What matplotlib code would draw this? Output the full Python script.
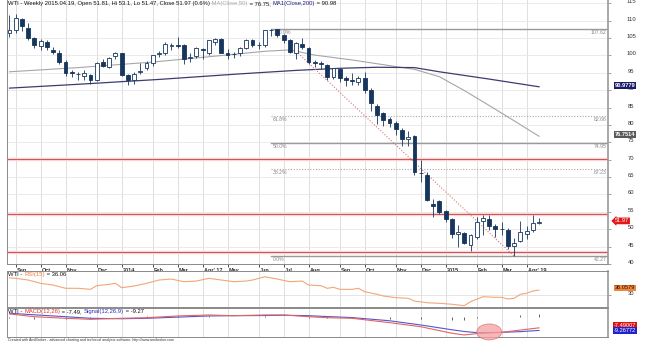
import matplotlib
matplotlib.use("Agg")
import matplotlib.pyplot as plt
import matplotlib.transforms as mtransforms
from matplotlib.patches import Ellipse

plt.rcParams['font.family'] = ['Liberation Sans', 'DejaVu Sans']

# weekly WTI bars, index 0 = week of 2 Sep 2013, last = week of 13 Apr 2015
bar_idx = list(range(-1, 85))
opens = [106.6, 107.4, 110.6, 107.9, 104.9, 102.8, 103.8, 101.6, 100.8, 98.2,
         95.1, 94.6, 94.1, 94.4, 93.0, 98.0, 96.8, 99.7, 100.6, 94.4,
         93.0, 95.3, 96.3, 97.8, 100.4, 100.7, 102.8, 103.0, 102.9, 99.3,
         99.9, 101.8, 100.6, 104.0, 104.6, 100.6, 100.3, 100.6, 102.1, 104.3,
         103.1, 103.0, 107.2, 107.5, 105.9, 104.3, 100.6, 103.3, 102.1, 98.0,
         97.8, 97.3, 93.9, 96.0, 93.6, 92.8, 92.5, 93.6, 90.1, 85.5,
         83.4, 81.7, 80.7, 78.6, 75.9, 76.7, 66.3, 65.7, 57.2, 58.0,
         55.3, 52.9, 48.7, 48.9, 45.4, 47.9, 52.4, 52.9, 51.0, 50.0,
         49.8, 45.1, 46.5, 48.7, 49.7, 51.81]
highs = [111.6, 112.0, 110.9, 109.3, 105.2, 104.6, 104.5, 102.5, 101.5, 98.6,
         95.8, 95.3, 95.7, 94.8, 98.1, 98.9, 99.5, 100.9, 100.8, 94.8,
         95.2, 97.8, 98.3, 100.2, 101.2, 103.9, 103.5, 105.2, 103.3, 100.7,
         102.3, 102.2, 104.4, 104.9, 104.9, 101.8, 101.1, 102.4, 104.6, 104.7,
         104.0, 107.4, 107.62, 107.6, 106.2, 104.6, 104.0, 105.0, 102.5, 98.6,
         98.5, 97.6, 96.5, 96.2, 94.0, 95.0, 94.2, 95.3, 90.6, 85.9,
         83.8, 82.2, 81.0, 79.0, 78.2, 77.0, 69.8, 66.6, 58.6, 58.5,
         55.6, 53.1, 51.3, 49.3, 48.6, 53.4, 54.2, 54.0, 51.4, 52.0,
         50.4, 47.4, 52.5, 50.8, 54.0, 53.1]
lows = [105.4, 106.6, 106.9, 104.4, 102.2, 101.5, 101.5, 100.4, 97.5, 94.2,
        93.7, 92.8, 92.9, 91.8, 92.6, 96.6, 96.3, 98.9, 94.0, 91.4,
        91.8, 94.8, 95.9, 96.9, 99.6, 100.2, 101.5, 102.2, 97.4, 98.1,
        99.3, 99.0, 100.2, 102.9, 100.6, 98.9, 99.2, 99.8, 101.8, 102.3,
        101.8, 102.5, 105.7, 105.3, 103.6, 100.6, 99.0, 101.9, 97.4, 96.6,
        96.2, 92.9, 93.3, 92.5, 91.3, 91.5, 91.6, 89.2, 84.0, 80.3,
        79.8, 79.4, 77.2, 74.0, 74.0, 65.7, 63.7, 58.0, 53.6, 54.5,
        52.0, 47.5, 45.0, 45.7, 43.8, 47.2, 48.4, 49.9, 47.8, 48.2,
        44.4, 42.27, 46.2, 47.1, 49.2, 51.47]
closes = [107.4, 110.9, 108.6, 104.9, 103.0, 104.2, 102.4, 101.1, 98.2, 94.9,
          95.0, 94.7, 94.9, 93.0, 97.8, 97.0, 99.4, 100.6, 94.4, 93.0,
          94.6, 95.6, 97.8, 100.1, 100.6, 103.4, 103.0, 102.8, 99.0, 99.5,
          102.0, 101.6, 104.3, 104.6, 100.8, 100.1, 100.5, 102.1, 104.4, 103.0,
          102.9, 107.3, 107.3, 105.9, 104.3, 101.1, 103.6, 102.4, 98.2, 97.9,
          97.6, 93.9, 96.3, 93.6, 93.0, 92.7, 93.6, 90.1, 86.3, 82.9,
          81.3, 80.7, 78.8, 76.0, 76.6, 66.4, 66.2, 58.3, 56.8, 55.1,
          53.0, 48.7, 49.1, 46.0, 48.4, 52.0, 53.2, 50.8, 50.1, 50.1,
          45.3, 46.0, 49.1, 49.4, 51.66, 51.97]

# moving averages read at sample weeks
ma50_idx = [-1, 10, 22, 32, 40, 44, 48, 54, 61, 64, 68, 72, 76, 80, 84]
ma50_val = [95.3, 96.5, 98.1, 99.8, 101.2, 101.6, 100.1, 98.7, 96.8, 96.0,
            93.9, 89.9, 85.6, 81.2, 76.75]
ma200_idx = [-1, 10, 23, 36, 45, 52, 58, 64, 68, 76, 84]
ma200_val = [90.6, 91.7, 93.1, 94.7, 95.7, 96.3, 96.6, 96.5, 95.3, 93.2, 90.98]

# fibonacci retracement from the June 2014 high to the March 2015 low
fib_start = 41
fib_levels = [42.27, 67.23, 74.95, 82.66, 107.62]
fib_names = ['0.0%', '38.2%', '50.0%', '61.8%', '100.0%']
fib_dotted = [False, True, False, True, False]
red_levels = [70.2, 54.45, 43.5]
trend_idx = [45, 80]
trend_val = [101.2, 42.27]

rsi_idx = [-1, 0, 2, 4, 6, 8, 10, 12, 13, 15, 16, 17, 19, 21, 23, 25, 27, 29,
           31, 33, 35, 37, 38, 40, 42, 44, 46, 47, 49, 50, 51, 52, 54, 55,
           56, 58, 59, 61, 63, 64, 66, 68, 70, 72, 73, 75, 77, 78, 79, 80,
           81, 82, 83, 84]
rsi_val = [52.5, 51.9, 49.6, 45.1, 42.8, 38.4, 38.4, 37.0, 41.9, 43.8, 45.1,
           39.2, 41.5, 45.1, 49.6, 50.9, 47.3, 48.2, 51.9, 49.6, 47.3, 48.2,
           49.6, 54.0, 50.9, 47.3, 48.2, 42.8, 41.9, 38.4, 39.7, 37.0, 37.0,
           38.4, 33.8, 30.3, 28.0, 25.7, 24.9, 21.2, 18.9, 18.1, 16.8, 14.9,
           20.3, 27.0, 26.2, 26.2, 23.9, 24.9, 30.3, 31.6, 34.7, 36.06]

macd_idx = [-1, 3, 8, 12, 17, 21, 26, 31, 35, 40, 43, 47, 50, 54, 60, 65, 70,
            72, 74, 78, 81, 84]
macd_val = [2.1, 0.2, -0.9, -1.6, -0.9, -0.5, 0.7, 1.4, 0.9, 1.4, 1.4, 0.2,
            -0.5, -0.9, -3.9, -6.7, -11.2, -12.4, -11.5, -10.6, -9.0, -7.49]
signal_val = [2.6, 1.5, 0.2, -0.9, -1.2, -0.9, -0.1, 0.7, 0.9, 1.0, 1.2, 0.9,
              0.3, -0.4, -2.6, -5.5, -8.8, -10.0, -10.8, -10.6, -10.1, -9.27]

month_idx = [0, 4, 8, 13, 17, 22, 26, 30, 34, 39, 43, 47, 52, 56, 61, 65, 69,
             74, 78, 82]
month_lbl = ['Sep', 'Oct', 'Nov', 'Dec', '2014', 'Feb', 'Mar', "Apr' 17", 'May',
             'Jun', 'Jul', 'Aug', 'Sep', 'Oct', 'Nov', 'Dec', '2015', 'Feb',
             'Mar', "Apr' 19"]

W, H = 645, 343
fig = plt.figure(figsize=(W / 100, H / 100), dpi=100)
fig.patch.set_facecolor('white')


def pane(top, bottom):
    return fig.add_axes([7 / W, 1 - bottom / H, 601 / W, (bottom - top) / H])


ax = pane(0, 264)
ax_rsi = pane(271, 307)
ax_macd = pane(308, 337)

XL = (-1.40, 95.07)
dark = '#17365d'
grid_c = '#d9d9d9'

for a in (ax, ax_rsi, ax_macd):
    a.set_xlim(*XL)
    a.set_facecolor('white')
    for m in month_idx:
        a.axvline(m, color=grid_c, lw=0.6, zorder=0)
    for s in a.spines.values():
        s.set_color('#8a8a8a')
        s.set_linewidth(0.7)
    a.spines['right'].set_color('#9a9a9a')
    a.spines['right'].set_linewidth(1.2)
    a.yaxis.tick_right()
    a.tick_params(axis='y', length=2, width=0.5, colors='#808080',
                  labelright=False, labelleft=False)

ax.spines['top'].set_visible(False)

# price pane
ax.set_ylim(40.0, 115.95)
price_ticks = list(range(40, 116, 5))
ax.set_yticks(price_ticks)
for p in price_ticks:
    ax.axhline(p, color='#e8e8e8', lw=0.6, zorder=0)

ax.set_xticks(month_idx)
ax.set_xticklabels(month_lbl, fontsize=4.0, fontweight='bold', color='#202020', ha='left')
ax.tick_params(axis='x', length=2, width=0.6, colors='#303030', pad=0.6)
shift = mtransforms.ScaledTranslation(1 / 100, 0, fig.dpi_scale_trans)
for lab in ax.get_xticklabels():
    lab.set_transform(lab.get_transform() + shift)

for lv in red_levels:
    ax.axhline(lv, color='#f8d4d4', lw=2.4, zorder=1)
    ax.axhline(lv, color='#d65050', lw=0.7, zorder=1)

x_end = XL[1]
for lv, nm, dotted in zip(fib_levels, fib_names, fib_dotted):
    if dotted:
        ax.plot([fib_start, x_end], [lv, lv], color='#a8a8a8', lw=0.8,
                ls=(0, (1, 1.5)), zorder=1)
    else:
        ax.plot([fib_start, x_end], [lv, lv], color='#9a9a9a', lw=1.0, zorder=1)
    ax.annotate(nm, (fib_start, lv), xytext=(1.5, -0.8), textcoords='offset points',
                fontsize=3.7, color='#888888', va='top', ha='left', zorder=1)
    ax.annotate('%.2f' % lv, (x_end, lv), xytext=(-1, -0.8), textcoords='offset points',
                fontsize=3.7, color='#888888', va='top', ha='right', zorder=1)

ax.plot(ma50_idx, ma50_val, color='#a6a6a6', lw=0.8, zorder=2)
ax.plot(ma200_idx, ma200_val, color='#3c3c72', lw=0.9, zorder=2)
ax.plot(trend_idx, trend_val, color='#e07272', lw=0.8, ls=(0, (1, 1.6)), zorder=2)

# candles
ax.vlines(bar_idx, lows, highs, color=dark, lw=0.6, zorder=3)
body_w = 0.62
for i, o, c in zip(bar_idx, opens, closes):
    up = c >= o
    lo = min(o, c)
    hgt = max(abs(c - o), 0.08)
    ax.bar(i, hgt, bottom=lo, width=body_w, color='white' if up else dark,
           edgecolor=dark, linewidth=0.6, zorder=4)

lift = mtransforms.ScaledTranslation(0, 1.5 / 100, fig.dpi_scale_trans)
lab_x = 1 + 23 / 601
box_x = 1 + 17 / 601


def right_text(a, v, s, **kw):
    tr = mtransforms.blended_transform_factory(a.transAxes, a.transData) + lift
    return a.text(kw.pop('x', lab_x), v, s, transform=tr, ha='center', va='center',
                  clip_on=False, **kw)


for p in price_ticks:
    right_text(ax, p, str(p), fontsize=4.2, color='#303030')

right_text(ax, ma200_val[-1], '90.9779', x=box_x, fontsize=4.1, color='white',
           fontweight='bold', bbox=dict(boxstyle='square,pad=0.15', fc='#1c1c6a', ec='none'))
right_text(ax, ma50_val[-1], '76.7514', x=box_x, fontsize=4.1, color='white',
           fontweight='bold', bbox=dict(boxstyle='square,pad=0.15', fc='#5a5a5a', ec='none'))
right_text(ax, closes[-1], '%.2f' % closes[-1], x=1 + 14 / 601, fontsize=4.1,
           color='white', bbox=dict(boxstyle='larrow,pad=0.15', fc='#e01818', ec='none'))


def chain(a, x, y, parts, size):
    t = a.text(x, y, parts[0][0], color=parts[0][1], transform=a.transAxes,
               fontsize=size, ha='left', va='top', zorder=6)
    for s, c in parts[1:]:
        t = a.annotate(s, xy=(1, 0), xycoords=t, color=c, fontsize=size,
                       ha='left', va='bottom', zorder=6)


chain(ax, 1.5 / 601, 1 - 1 / 264,
      [('WTI - Weekly 2015.04.19, Open 51.81, Hi 53.1, Lo 51.47, Close 51.97 (0.6%)', '#111111'),
       (' MA(Close,50)', '#a8a8a8'), (' = 76.75, ', '#111111'),
       ('MA1(Close,200)', '#1c1c80'), (' = 90.98', '#111111')], 4.2)

# RSI pane
ax_rsi.set_ylim(13.1, 61.8)
ax_rsi.set_xticks([])
ax_rsi.set_yticks([30])
ax_rsi.axhline(30, color='#e0e0e0', lw=0.6, zorder=0)
ax_rsi.plot(rsi_idx, rsi_val, color='#f2a678', lw=0.8, zorder=2)
right_text(ax_rsi, 30, '30', fontsize=4.2, color='#303030')
right_text(ax_rsi, rsi_val[-1] + 0.9, '36.0579', x=box_x, fontsize=4.1, color='#2a1000',
           bbox=dict(boxstyle='square,pad=0.15', fc='#f0843c', ec='none'))
chain(ax_rsi, 1.5 / 601, 1 - 1 / 36,
      [('WTI - ', '#111111'), ('RSI(15)', '#f07838'), (' = 36.06', '#111111')], 4.2)

# MACD pane
ax_macd.set_ylim(-13.8, 6.2)
ax_macd.set_xticks([])
ax_macd.set_yticks([])
hist = [m - s for m, s in zip(macd_val, signal_val)]
ax_macd.vlines(macd_idx, 0, hist, color='#222222', lw=0.5, zorder=2)
ax_macd.plot(macd_idx, signal_val, color='#5656cc', lw=0.8, zorder=3)
ax_macd.plot(macd_idx, macd_val, color='#e06464', lw=0.8, zorder=3)
ax_macd.add_patch(Ellipse((76, -10.3), width=4.0, height=11.0, fc='#f4a0a0',
                          ec='#e06a6a', lw=0.6, alpha=0.75, zorder=4, clip_on=False))
right_text(ax_macd, macd_val[-1] + 0.5, '-7.49007', x=box_x, fontsize=4.1, color='white',
           bbox=dict(boxstyle='square,pad=0.15', fc='#e01010', ec='none'))
right_text(ax_macd, signal_val[-1] - 1.3, '-9.26772', x=box_x, fontsize=4.1, color='white',
           bbox=dict(boxstyle='square,pad=0.15', fc='#2222cc', ec='none'))
chain(ax_macd, 1.5 / 601, 1 - 1 / 29,
      [('WTI - ', '#111111'), ('MACD(12,26)', '#e03030'), (' = -7.49, ', '#111111'),
       ('Signal(12,26,9)', '#2a2ac0'), (' = -9.27', '#111111')], 4.2)

fig.text(8 / W, 1 - 340.5 / H,
         'Created with AmiBroker - advanced charting and technical analysis software. '
         'http://www.amibroker.com', fontsize=2.6, color='#333333', va='center')

fig.savefig('out.png', dpi=100)
